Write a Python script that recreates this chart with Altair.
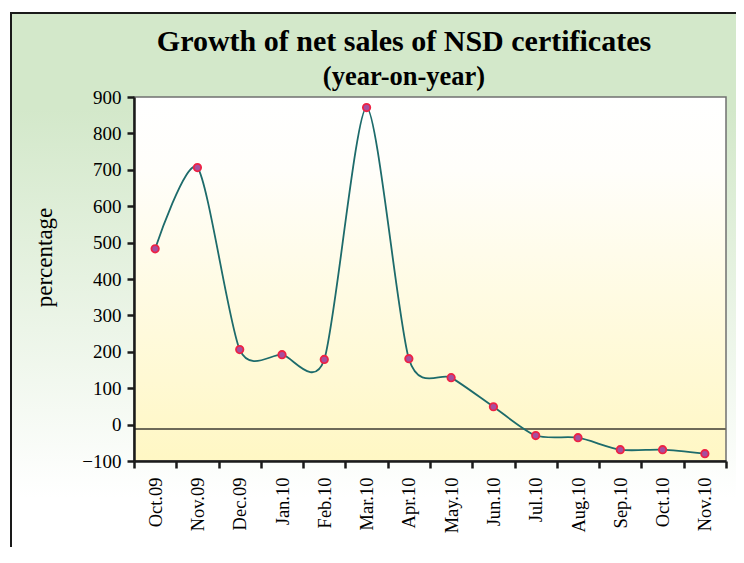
import altair as alt
import pandas as pd

# ---- data ----
months = ["Oct.09", "Nov.09", "Dec.09", "Jan.10", "Feb.10", "Mar.10", "Apr.10",
          "May.10", "Jun.10", "Jul.10", "Aug.10", "Sep.10", "Oct.10", "Nov.10"]
growth = [483, 706, 206, 192, 179, 871, 181, 129, 49, -30, -36, -69, -69, -80]
baseline_level = [-12]
y_ticks = [-100, 0, 100, 200, 300, 400, 500, 600, 700, 800, 900]

df = pd.DataFrame({"month": months, "growth": growth})
base_df = pd.DataFrame({"growth": baseline_level})
one = pd.DataFrame({"k": [0]})

W, H = 592, 364
SERIF = "Liberation Serif"
AX = "#1a1a1a"

x_enc = alt.X(
    "month:N", sort=months,
    scale=alt.Scale(type="band", paddingInner=0, paddingOuter=0),
    axis=alt.Axis(title=None, labelAngle=-90, labelAlign="right", labelBaseline="middle",
                  labelFont=SERIF, labelFontSize=18.5, labelColor="black", labelPadding=9,
                  tickBand="extent", tickSize=7, tickWidth=2.5, tickColor=AX,
                  domainColor=AX, domainWidth=2.5, grid=False, zindex=1,
                  labelOverlap=False),
)
y_enc = alt.Y(
    "growth:Q",
    scale=alt.Scale(domain=[-100, 900], nice=False, zero=False),
    axis=alt.Axis(values=y_ticks, title="percentage", titleFont=SERIF, titleFontSize=23,
                  titleFontWeight="normal", titleColor="black", titleX=-90, titleY=160,
                  titleAngle=-90, titleAlign="center", titleBaseline="middle",
                  labelFont=SERIF, labelFontSize=19, labelColor="black", labelPadding=6,
                  tickSize=7, tickWidth=2.5, tickColor=AX, domainColor=AX, domainWidth=2.5,
                  grid=False, zindex=1),
)

outer_grad = alt.LinearGradient(
    gradient="linear", x1=0, y1=0, x2=0, y2=1,
    stops=[alt.GradientStop(offset=0, color="#d3e8ca"),
           alt.GradientStop(offset=0.17, color="#d3e8ca"),
           alt.GradientStop(offset=0.86, color="#ffffff"),
           alt.GradientStop(offset=1, color="#ffffff")],
)
plot_grad = alt.LinearGradient(
    gradient="linear", x1=0, y1=0, x2=0, y2=1,
    stops=[alt.GradientStop(offset=0, color="#ffffff"),
           alt.GradientStop(offset=0.2, color="#fffefa"),
           alt.GradientStop(offset=1, color="#fff7c4")],
)

outer_bg = alt.Chart(one).mark_rect(fill=outer_grad, stroke="#1a1a1a", strokeWidth=2).encode(
    x=alt.value(-123), x2=alt.value(640), y=alt.value(-84), y2=alt.value(480))
plot_bg = alt.Chart(one).mark_rect(fill=plot_grad, stroke="#707070", strokeWidth=1.5).encode(
    x=alt.value(0), x2=alt.value(W), y=alt.value(0), y2=alt.value(H))

rule = alt.Chart(base_df).mark_rule(color="#6e6a58", strokeWidth=2).encode(y=y_enc)
line = alt.Chart(df).mark_line(interpolate="cardinal", tension=0.25, color="#1d6b6b",
                               strokeWidth=1.8).encode(x=x_enc, y=y_enc)
pts = alt.Chart(df).mark_circle(size=55, color="#a64f9e", stroke="#ee2244",
                                strokeWidth=1.8, opacity=1).encode(x=x_enc, y=y_enc)

chart = alt.layer(outer_bg, plot_bg, rule, line, pts).properties(
    width=W, height=H,
    autosize="none",
    padding={"left": 126, "top": 89, "right": 10, "bottom": 86},
    title=alt.TitleParams(
        text="Growth of net sales of NSD certificates", subtitle="(year-on-year)",
        font=SERIF, fontSize=30, fontWeight="bold", color="black",
        subtitleFont=SERIF, subtitleFontSize=26.5, subtitleFontWeight="bold",
        subtitleColor="black", subtitlePadding=7,
        anchor="middle", frame="group", dx=-26, dy=78, offset=0),
).configure_view(stroke=None)

chart.save("out.html", embed_options={"renderer": "svg", "actions": False})
